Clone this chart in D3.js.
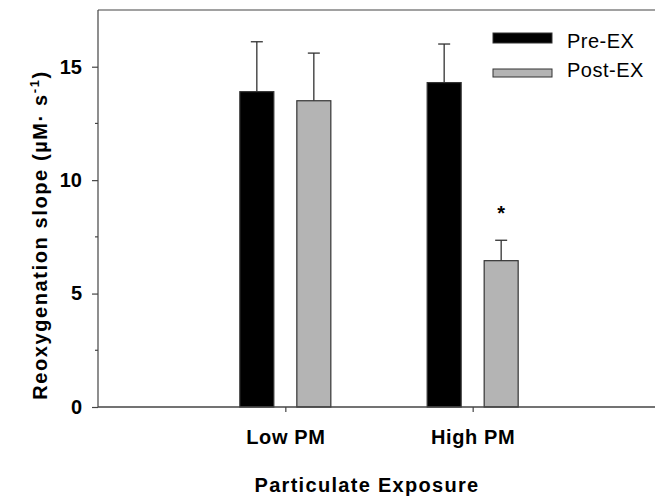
<!DOCTYPE html>
<html>
<head>
<meta charset="utf-8">
<script src="https://cdn.jsdelivr.net/npm/d3@7"></script>
<style>
  body { margin: 0; background: #fff; }
  text { font-family: "Liberation Sans", Arial, sans-serif; }
</style>
</head>
<body>
<svg id="chart" width="655" height="497"></svg>
<script>
const categories = ["Low PM", "High PM"];
const series = ["Pre-EX", "Post-EX"];
const means = [
    [13.9, 13.5],   // Low PM: pre, post
    [14.3, 6.45],   // High PM: pre, post
];
const errors = [
    [2.2, 2.1],
    [1.7, 0.9],
];
const yTicks = [0, 5, 10, 15];
const yMinorTicks = [2.5, 7.5, 12.5];
const colors = ["#000000", "#b4b4b4"];

const svg = d3.select("#chart");
const mLeft = 98, mRight = 660, mTop = 10, mBottom = 407;
const axisColor = "#444";
const font = "Liberation Sans, Arial, sans-serif";

// x is a linear position: categories sit at 1 and 2 on a 0..3 span
const x = d3.scaleLinear().domain([0, 3]).range([mLeft, mRight]);
const y = d3.scaleLinear().domain([0, 17.5]).range([mBottom, mTop]);
const barW = 34, offset = 28.5;

// frame line on top (runs off the right edge)
svg.append("line").attr("x1", mLeft).attr("x2", mRight).attr("y1", mTop).attr("y2", mTop)
    .attr("stroke", axisColor).attr("stroke-width", 1.2);

// bars
categories.forEach((cat, ci) => {
    series.forEach((s, si) => {
        const cx = x(ci + 1) + (si === 0 ? -offset : offset);
        const v = means[ci][si], e = errors[ci][si];
        // error bar (upper only)
        svg.append("line").attr("x1", cx).attr("x2", cx)
            .attr("y1", y(v)).attr("y2", y(v + e))
            .attr("stroke", "#333").attr("stroke-width", 1.3);
        svg.append("line").attr("x1", cx - 6).attr("x2", cx + 6)
            .attr("y1", y(v + e)).attr("y2", y(v + e))
            .attr("stroke", "#333").attr("stroke-width", 1.3);
        svg.append("rect")
            .attr("x", cx - barW / 2).attr("width", barW)
            .attr("y", y(v)).attr("height", y(0) - y(v))
            .attr("fill", colors[si])
            .attr("stroke", "#333").attr("stroke-width", 1.2);
    });
});

// significance marker
svg.append("text").attr("x", x(2) + offset).attr("y", y(means[1][1] + errors[1][1]) - 20)
    .attr("text-anchor", "middle").attr("font-size", 20).attr("font-weight", "bold").text("*");

// y axis
const yAxis = d3.axisLeft(y).tickValues(yTicks).tickSize(6).tickPadding(10).tickFormat(d3.format("d"));
const gy = svg.append("g").attr("transform", `translate(${mLeft},0)`).call(yAxis);
gy.select(".domain").attr("d", `M0,${mTop}V${mBottom}`).attr("stroke", axisColor).attr("stroke-width", 1.2);
gy.selectAll(".tick line").attr("stroke", axisColor).attr("stroke-width", 1.2);
gy.selectAll(".tick text").attr("font-size", 20).attr("font-weight", "bold").attr("fill", "#000")
    .attr("font-family", font);
gy.selectAll(".minor").data(yMinorTicks).enter().append("line")
    .attr("x1", -3).attr("x2", 0).attr("y1", d => y(d)).attr("y2", d => y(d))
    .attr("stroke", axisColor).attr("stroke-width", 1.2);

// x axis
const xAxis = d3.axisBottom(x).tickValues([1, 2]).tickSize(5).tickPadding(18)
    .tickFormat(d => categories[d - 1]);
const gx = svg.append("g").attr("transform", `translate(0,${mBottom})`).call(xAxis);
gx.select(".domain").attr("d", `M${mLeft},0H${mRight}`).attr("stroke", axisColor).attr("stroke-width", 1.5);
gx.selectAll(".tick line").attr("stroke", axisColor).attr("stroke-width", 1.2);
gx.selectAll(".tick text").attr("font-size", 20).attr("font-weight", "bold").attr("fill", "#000")
    .attr("font-family", font).attr("letter-spacing", 0.6);

// axis titles
svg.append("text").attr("x", 367).attr("y", 492).attr("text-anchor", "middle")
    .attr("font-size", 20).attr("font-weight", "bold").attr("letter-spacing", 1.3)
    .text("Particulate  Exposure");
const yt = svg.append("text").attr("transform", "translate(47,235) rotate(-90)")
    .attr("text-anchor", "middle").attr("font-size", 20).attr("font-weight", "bold")
    .attr("letter-spacing", 1.6);
yt.append("tspan").text("Reoxygenation slope (\u00b5M\u00b7 s");
yt.append("tspan").attr("font-size", 13).attr("dy", -8).text("-1");
yt.append("tspan").attr("dy", 8).text(")");

// legend
const legend = svg.append("g");
const legendH = [10, 8];
series.forEach((s, i) => {
    const ly = 33 + i * 36;
    legend.append("rect").attr("x", 493).attr("y", ly).attr("width", 59).attr("height", legendH[i])
        .attr("fill", colors[i]).attr("stroke", "#333").attr("stroke-width", 1);
    legend.append("text").attr("x", 567).attr("y", 48 + i * 28.5).attr("font-size", 20)
        .attr("fill", "#000").attr("letter-spacing", 0.5).text(s);
});
</script>
</body>
</html>
